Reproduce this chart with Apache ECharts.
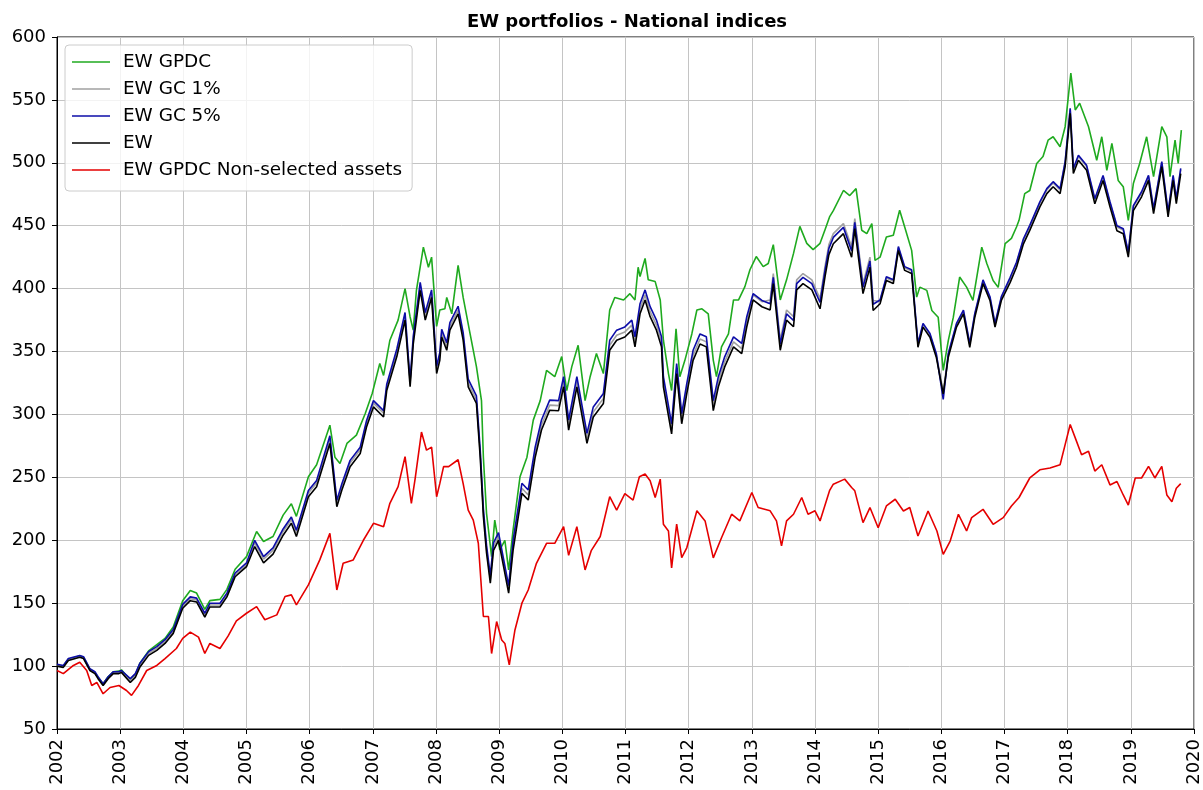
<!DOCTYPE html>
<html>
<head>
<meta charset="utf-8">
<title>EW portfolios - National indices</title>
<script src="https://cdn.jsdelivr.net/npm/echarts@6/dist/echarts.min.js"></script>
<style>
  html, body { margin: 0; padding: 0; background: #fff; }
  #chart { width: 1203px; height: 790px; }
</style>
</head>
<body>
<div id="chart"></div>
<script>
// Year ticks and value ticks
const yearTicks = [2002, 2003, 2004, 2005, 2006, 2007, 2008, 2009, 2010, 2011,
                   2012, 2013, 2014, 2015, 2016, 2017, 2018, 2019, 2020];
const valueTicks = [50, 100, 150, 200, 250, 300, 350, 400, 450, 500, 550, 600];

// EW GPDC (green)
const gpdcDates = [
  2002.00, 2002.10, 2002.18, 2002.36, 2002.42, 2002.52, 2002.60, 2002.65, 2002.73, 2002.81,
  2002.89, 2002.98, 2003.02, 2003.16, 2003.24, 2003.31, 2003.45, 2003.58, 2003.71, 2003.84,
  2003.99, 2004.11, 2004.21, 2004.34, 2004.42, 2004.58, 2004.69, 2004.82, 2005.00, 2005.16,
  2005.27, 2005.42, 2005.58, 2005.71, 2005.79, 2005.98, 2006.11, 2006.32, 2006.40, 2006.48,
  2006.59, 2006.74, 2006.88, 2006.99, 2007.11, 2007.17, 2007.27, 2007.40, 2007.51, 2007.59,
  2007.64, 2007.69, 2007.80, 2007.88, 2007.93, 2008.01, 2008.06, 2008.14, 2008.17, 2008.25,
  2008.35, 2008.43, 2008.54, 2008.64, 2008.72, 2008.75, 2008.80, 2008.88, 2008.93, 2009.01,
  2009.09, 2009.15, 2009.22, 2009.33, 2009.44, 2009.54, 2009.65, 2009.75, 2009.88, 2009.99,
  2010.07, 2010.15, 2010.25, 2010.36, 2010.44, 2010.54, 2010.65, 2010.75, 2010.83, 2010.97,
  2011.07, 2011.15, 2011.20, 2011.23, 2011.31, 2011.36, 2011.47, 2011.55, 2011.60, 2011.68,
  2011.73, 2011.80, 2011.86, 2011.94, 2012.05, 2012.13, 2012.21, 2012.31, 2012.39, 2012.44,
  2012.52, 2012.63, 2012.71, 2012.79, 2012.89, 2012.97, 2013.07, 2013.18, 2013.26, 2013.34,
  2013.45, 2013.55, 2013.66, 2013.76, 2013.87, 2013.97, 2014.08, 2014.16, 2014.23, 2014.29,
  2014.45, 2014.55, 2014.65, 2014.74, 2014.82, 2014.90, 2014.95, 2015.03, 2015.13, 2015.24,
  2015.34, 2015.42, 2015.53, 2015.61, 2015.66, 2015.77, 2015.85, 2015.95, 2016.03, 2016.11,
  2016.19, 2016.29, 2016.40, 2016.50, 2016.64, 2016.72, 2016.82, 2016.90, 2017.01, 2017.11,
  2017.19, 2017.23, 2017.32, 2017.40, 2017.51, 2017.61, 2017.69, 2017.77, 2017.88, 2017.96,
  2018.05, 2018.12, 2018.19, 2018.33, 2018.46, 2018.54, 2018.62, 2018.70, 2018.80, 2018.88,
  2018.96, 2019.04, 2019.14, 2019.25, 2019.36, 2019.49, 2019.57, 2019.62, 2019.70, 2019.75,
  2019.80
];
const gpdcValues = [
  100, 100, 105.5, 108, 107, 97.5, 95, 91, 86, 91.5,
  95.5, 96, 97, 89, 93, 102, 112, 117, 122, 131,
  152, 160, 158, 145, 152, 153, 161, 177, 187, 207,
  199, 203, 220, 229, 219, 250.5, 260, 291.5, 266, 261,
  277, 283.6, 300.8, 316.7, 340.5, 331, 359, 375, 400, 377.5,
  367, 398.7, 433, 417, 425, 370, 383, 384, 393, 380,
  418.5, 393, 364, 338, 311, 266, 221.4, 187, 216, 192.3,
  200, 176.4, 208, 250.5, 266, 295.5, 311, 335, 330, 346,
  319, 338, 355, 311, 330, 348.4, 332.5, 383, 393, 391,
  396, 391, 417, 409.6, 424, 407, 405.6, 391, 359, 332.5,
  319, 368, 330, 343, 364, 383, 384, 380, 343, 330,
  353.7, 364, 391, 391, 401.6, 415, 425.5, 417.5, 420, 435,
  391, 407, 428, 449.5, 436, 431, 436, 447, 457, 462,
  478, 474, 479.5, 446.4, 443.7, 451.7, 422.5, 425, 441, 442.4,
  462.3, 449, 430.4, 393.3, 401.2, 398.6, 382.6, 377.3, 335, 358.7,
  377.3, 409.2, 401.2, 390.6, 433, 420, 406.5, 401, 435.7, 440,
  449, 454.3, 475.5, 478, 499.5, 505, 518, 520.7, 512.8, 528.7,
  571.3, 542, 547.3, 528.7, 502, 520.7, 494, 515.4, 486, 481,
  454.3, 483.5, 499.5, 520.7, 489, 528.7, 520.7, 489, 518, 499.5,
  526
];

// EW, EW GC 5% and EW GC 1% share one set of dates
const ewDates = [
  2002.00, 2002.10, 2002.18, 2002.36, 2002.42, 2002.52, 2002.60, 2002.65, 2002.73, 2002.81,
  2002.89, 2002.98, 2003.02, 2003.16, 2003.24, 2003.31, 2003.45, 2003.58, 2003.71, 2003.84,
  2003.99, 2004.11, 2004.21, 2004.34, 2004.42, 2004.58, 2004.69, 2004.82, 2005.00, 2005.13,
  2005.27, 2005.42, 2005.58, 2005.71, 2005.79, 2005.98, 2006.11, 2006.32, 2006.43, 2006.51,
  2006.64, 2006.80, 2006.90, 2007.01, 2007.17, 2007.22, 2007.38, 2007.51, 2007.59, 2007.64,
  2007.75, 2007.83, 2007.93, 2008.01, 2008.06, 2008.09, 2008.17, 2008.22, 2008.35, 2008.43,
  2008.51, 2008.64, 2008.70, 2008.75, 2008.80, 2008.86, 2008.91, 2008.99, 2009.07, 2009.15,
  2009.22, 2009.36, 2009.46, 2009.57, 2009.67, 2009.80, 2009.94, 2010.02, 2010.10, 2010.23,
  2010.39, 2010.49, 2010.65, 2010.75, 2010.86, 2010.99, 2011.10, 2011.15, 2011.23, 2011.31,
  2011.39, 2011.49, 2011.57, 2011.60, 2011.73, 2011.81, 2011.89, 2011.97, 2012.07, 2012.18,
  2012.28, 2012.39, 2012.47, 2012.57, 2012.71, 2012.84, 2012.92, 2013.02, 2013.16, 2013.29,
  2013.34, 2013.45, 2013.55, 2013.66, 2013.71, 2013.81, 2013.95, 2014.08, 2014.16, 2014.22,
  2014.29, 2014.45, 2014.58, 2014.63, 2014.76, 2014.87, 2014.92, 2015.03, 2015.13, 2015.24,
  2015.32, 2015.42, 2015.53, 2015.63, 2015.71, 2015.82, 2015.92, 2016.03, 2016.11, 2016.24,
  2016.35, 2016.45, 2016.53, 2016.66, 2016.77, 2016.85, 2016.95, 2017.09, 2017.19, 2017.30,
  2017.40, 2017.56, 2017.67, 2017.77, 2017.88, 2017.96, 2018.04, 2018.09, 2018.17, 2018.30,
  2018.43, 2018.56, 2018.67, 2018.78, 2018.88, 2018.96, 2019.04, 2019.17, 2019.28, 2019.36,
  2019.49, 2019.59, 2019.67, 2019.72, 2019.79
];
const ewValues = [
  100, 99, 104.5, 107, 106, 96.5, 94, 90, 84.6, 90,
  94, 94, 95, 87, 91, 99, 108.5, 112.5, 118, 126,
  146, 152, 151, 139, 147, 147, 155, 171, 179, 195,
  182, 189, 204, 213.5, 203, 234.6, 242.6, 277, 226.7, 240,
  258.5, 269, 290, 306, 298, 319, 346, 375, 322, 356,
  398.7, 375, 393, 332.5, 343, 361.6, 351, 367, 380, 359,
  322, 308.7, 266, 219, 190, 166, 192, 200, 179, 158,
  192, 237.3, 232, 266, 287.6, 303.4, 303, 322, 287.6, 322,
  277, 298, 308.7, 351, 359, 361.6, 367, 353.7, 380, 391,
  377.7, 367, 353.7, 322, 284.6, 332.5, 292.6, 316.5, 343, 356,
  353.7, 303, 322, 337.8, 353.7, 348.4, 369.7, 391, 385.6, 383,
  404, 351, 375, 369.7, 399, 404, 399, 384, 410, 427,
  435.7, 443.7, 425, 447.7, 396, 417, 382.6, 388, 406.5, 404,
  430.4, 414.5, 412, 353.4, 369.4, 361.4, 345.5, 316.3, 345.5, 369.4,
  380, 353.4, 377.3, 404, 390.6, 369.4, 390.6, 405, 417, 435.6,
  446.3, 465, 475.5, 481, 475.5, 497, 539.4, 491.5, 502, 494,
  467.5, 486, 465, 446, 443.6, 425, 462, 473, 486, 459.6,
  497, 457, 486, 467.5, 491.5
];
const gc5Values = [
  101.5, 100.5, 106, 108.5, 107.5, 98, 95.5, 91.5, 86, 91.5,
  95.5, 95.5, 96.5, 90, 94, 102, 111.5, 115.5, 121, 129,
  149, 155, 154, 142, 150, 150, 158, 174, 182, 200,
  187, 194, 209, 218.5, 208, 239.6, 247.6, 283, 231.7, 245,
  263.5, 274, 295, 311, 303, 324, 352, 381, 327, 362,
  405, 381, 399, 338.5, 349, 367.6, 357, 373, 386, 365,
  328, 314.7, 272, 225, 196, 172, 198, 206, 185, 164,
  200, 245.3, 240, 274, 295.6, 311.4, 311, 330, 295.6, 330,
  285, 306, 316.7, 359, 367, 369.6, 375, 361.7, 388, 399,
  385.7, 375, 361.7, 330, 292.6, 340.5, 300.6, 324.5, 351, 364,
  361.7, 311, 330, 345.8, 361.7, 356.4, 377.7, 396, 390.6, 388,
  409, 356, 380, 374.7, 404, 409, 404, 389, 415, 432,
  440.7, 448.7, 430, 452.7, 401, 422, 387.6, 391, 409.5, 407,
  433.4, 417.5, 415, 356.4, 372.4, 364.4, 348.5, 312, 348.5, 372.4,
  383, 356.4, 380.3, 407, 393.6, 372.4, 393.6, 409, 421, 439.6,
  450.3, 469, 479.5, 485, 479.5, 501, 543.4, 495.5, 506, 498,
  471.5, 490, 469, 450, 447.6, 429, 466, 477, 490, 463.6,
  501, 461, 490, 471.5, 495.5
];
const gc1Values = [
  100.5, 99.5, 105, 107.5, 106.5, 97, 94.5, 90.5, 85, 90.5,
  94.5, 94.5, 95.5, 88.5, 92.5, 100.5, 110, 114, 119.5, 127.5,
  147.5, 153.5, 152.5, 140.5, 148.5, 148.5, 156.5, 172.5, 180.5, 198,
  185, 192, 207, 216.5, 206, 237.6, 245.6, 280, 229.7, 243,
  261.5, 272, 293, 309, 301, 322, 349, 378, 325, 359,
  402, 378, 396, 335.5, 346, 364.6, 354, 370, 383, 362,
  325, 311.7, 269, 222, 193, 169, 195, 203, 182, 161,
  196, 241.3, 236, 270, 291.6, 307.4, 307, 326, 291.6, 326,
  281, 302, 312.7, 355, 363, 365.6, 371, 357.7, 384, 395,
  381.7, 371, 357.7, 326, 288.6, 336.5, 296.6, 320.5, 347, 360,
  357.7, 307, 326, 341.8, 357.7, 352.4, 373.7, 395, 389.6, 391,
  412, 359, 383, 377.7, 407, 412, 407, 392, 418, 435,
  443.7, 451.7, 433, 455.7, 404, 425, 390.6, 390, 408.5, 406,
  432.4, 416.5, 414, 355.4, 371.4, 363.4, 347.5, 318.3, 347.5, 371.4,
  382, 355.4, 379.3, 406, 392.6, 371.4, 392.6, 408, 420, 438.6,
  449.3, 468, 478.5, 484, 478.5, 500, 542.4, 494.5, 505, 497,
  470.5, 489, 468, 449, 446.6, 428, 465, 476, 489, 462.6,
  500, 460, 489, 470.5, 494.5
];

// EW GPDC Non-selected assets (red)
const nonSelDates = [
  2002.00, 2002.10, 2002.26, 2002.36, 2002.47, 2002.55, 2002.63, 2002.73, 2002.84, 2002.98,
  2003.10, 2003.18, 2003.29, 2003.42, 2003.58, 2003.71, 2003.89, 2003.99, 2004.11, 2004.24,
  2004.34, 2004.42, 2004.58, 2004.71, 2004.84, 2005.00, 2005.16, 2005.29, 2005.48, 2005.61,
  2005.71, 2005.79, 2005.98, 2006.16, 2006.32, 2006.43, 2006.53, 2006.69, 2006.85, 2007.01,
  2007.17, 2007.27, 2007.40, 2007.51, 2007.61, 2007.67, 2007.77, 2007.85, 2007.93, 2008.01,
  2008.06, 2008.12, 2008.20, 2008.35, 2008.43, 2008.51, 2008.59, 2008.67, 2008.75, 2008.83,
  2008.88, 2008.96, 2009.04, 2009.09, 2009.16, 2009.25, 2009.36, 2009.46, 2009.59, 2009.75,
  2009.88, 2010.02, 2010.10, 2010.23, 2010.36, 2010.46, 2010.60, 2010.75, 2010.86, 2010.99,
  2011.12, 2011.22, 2011.31, 2011.39, 2011.47, 2011.55, 2011.60, 2011.68, 2011.73, 2011.81,
  2011.89, 2011.97, 2012.13, 2012.26, 2012.39, 2012.52, 2012.68, 2012.81, 2013.00, 2013.10,
  2013.29, 2013.39, 2013.47, 2013.55, 2013.66, 2013.79, 2013.89, 2014.00, 2014.08, 2014.23,
  2014.29, 2014.47, 2014.58, 2014.63, 2014.76, 2014.87, 2015.00, 2015.13, 2015.27, 2015.40,
  2015.50, 2015.63, 2015.79, 2015.93, 2016.03, 2016.14, 2016.27, 2016.40, 2016.48, 2016.66,
  2016.82, 2016.98, 2017.11, 2017.23, 2017.40, 2017.56, 2017.72, 2017.88, 2017.96, 2018.04,
  2018.12, 2018.22, 2018.33, 2018.43, 2018.54, 2018.67, 2018.78, 2018.88, 2018.96, 2019.07,
  2019.17, 2019.28, 2019.38, 2019.49, 2019.57, 2019.65, 2019.72, 2019.79
];
const nonSelValues = [
  96.5, 94, 100.5, 103, 96.5, 84.6, 87, 78, 83, 84.6,
  80.6, 76.7, 84.6, 96.5, 100.5, 106, 114, 122, 127, 123,
  110, 118, 114, 124, 136, 142, 147.3, 136.8, 140.7, 155.3,
  156.6, 148.7, 164.5, 184.4, 205.5, 160.5, 181.7, 184.4, 200, 213.5,
  210.8, 229.4, 242.6, 266.4, 229.4, 249, 286, 271.6, 274, 234.6,
  245, 258.5, 258.5, 264, 245, 224, 216, 197.6, 139.4, 139.4,
  110, 135.4, 120.8, 118, 101, 128.7, 150, 160.5, 181.7, 197.6,
  197.6, 210.8, 188, 210.8, 176.4, 192, 203, 234.6, 224, 237,
  232, 250.5, 252.7, 247.3, 234, 248.6, 212.8, 207.4, 178, 212.8,
  186.2, 194, 223.4, 215.4, 186, 202, 220.7, 215.4, 238, 226,
  223.4, 215.4, 195.5, 215.4, 220.7, 234, 220.7, 223.4, 215.4, 239.4,
  244.6, 248.6, 242, 239.3, 214, 226, 210, 227.3, 232.6, 223.3,
  226, 203.4, 223.3, 207.4, 188.8, 199.4, 220.7, 207.4, 218, 224.6,
  212.7, 218, 227.3, 234, 249.5, 256, 257.4, 260, 276, 292,
  281.4, 268, 270.7, 255, 260, 244, 246.7, 236, 228, 249.5,
  249.5, 258.8, 249.5, 258.8, 236, 230.6, 241.4, 245
];

function pairs(dates, values) {
  return dates.map(function (d, i) { return [d, values[i]]; });
}

const FONT = 'DejaVu Sans';
// thin horizontal bar used as the legend key (keeps its aspect inside the item box)
const LEGEND_LINE = 'path://M0,0 L38,0 L38,1.7 L0,1.7 Z';

function lineSeries(name, color, data) {
  return {
    name: name,
    type: 'line',
    data: data,
    symbol: 'none',
    showSymbol: false,
    smooth: false,
    lineStyle: { color: color, width: 1.6 },
    itemStyle: { color: color },
    emphasis: { disabled: true },
    z: 2
  };
}

const legendNames = ['EW GPDC', 'EW GC 1%', 'EW GC 5%', 'EW', 'EW GPDC Non-selected assets'];

const chart = echarts.init(document.getElementById('chart'), null, { renderer: 'canvas' });

chart.setOption({
  animation: false,
  backgroundColor: '#ffffff',
  grid: {
    left: 57, right: 9, top: 37, bottom: 61,
    show: true, borderColor: '#000', borderWidth: 1, backgroundColor: 'transparent'
  },
  graphic: [{
    type: 'text',
    x: 627,
    y: 22,
    style: {
      text: 'EW portfolios - National indices',
      fill: '#000',
      font: 'bold 18px "' + FONT + '"',
      textAlign: 'center',
      textVerticalAlign: 'middle'
    },
    z: 10
  }],
  legend: {
    orient: 'vertical',
    left: 65,
    top: 45,
    padding: [8, 10, 12, 7],
    itemWidth: 38,
    itemHeight: 16,
    itemGap: 9,
    icon: LEGEND_LINE,
    symbolKeepAspect: true,
    backgroundColor: 'rgba(255,255,255,0.8)',
    borderColor: '#cccccc',
    borderWidth: 1,
    borderRadius: 4,
    selectedMode: false,
    textStyle: {
      fontFamily: FONT, fontSize: 18.4, color: '#000', lineHeight: 16,
      padding: [0, 0, 0, 8]
    },
    data: legendNames,
    z: 20
  },
  xAxis: {
    type: 'value',
    min: yearTicks[0],
    max: yearTicks[yearTicks.length - 1],
    interval: 1,
    axisLine: { show: true, onZero: false, lineStyle: { color: '#000', width: 1 } },
    axisTick: { show: true, length: 5, lineStyle: { color: '#000' } },
    axisLabel: {
      rotate: 90, margin: 10, color: '#000', fontFamily: FONT, fontSize: 18,
      formatter: function (v) { return String(Math.round(v)); }
    },
    splitLine: { show: true, lineStyle: { color: '#c4c4c4', width: 1 } }
  },
  yAxis: {
    type: 'value',
    min: valueTicks[0],
    max: valueTicks[valueTicks.length - 1],
    interval: 50,
    axisLine: { show: true, onZero: false, lineStyle: { color: '#000', width: 1 } },
    axisTick: { show: true, length: 5, lineStyle: { color: '#000' } },
    axisLabel: { margin: 11, color: '#000', fontFamily: FONT, fontSize: 18 },
    splitLine: { show: true, lineStyle: { color: '#c4c4c4', width: 1 } }
  },
  series: [
    lineSeries('EW GPDC', '#1faa1f', pairs(gpdcDates, gpdcValues)),
    lineSeries('EW GC 1%', '#a0a0a0', pairs(ewDates, gc1Values)),
    lineSeries('EW GC 5%', '#0c0ca8', pairs(ewDates, gc5Values)),
    lineSeries('EW', '#000000', pairs(ewDates, ewValues)),
    lineSeries('EW GPDC Non-selected assets', '#e50000', pairs(nonSelDates, nonSelValues))
  ]
});
</script>
</body>
</html>
